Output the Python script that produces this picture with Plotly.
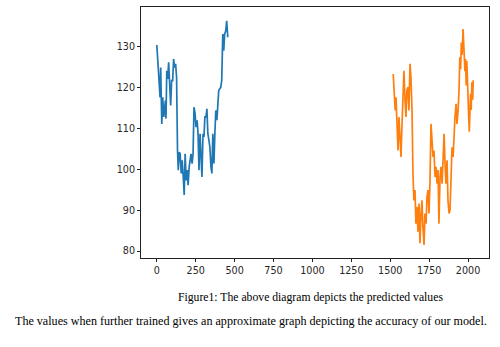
import plotly.graph_objects as go

# Predictions on the training window (day index, price)
train_day = [0, 11, 17, 21, 25, 32, 38, 42, 45, 55, 59, 64, 70, 76, 83, 89, 95, 102,
             108, 114, 121, 127, 133, 138, 144, 150, 157, 163, 170, 176, 182, 189,
             195, 201, 208, 214, 220, 227, 233, 239, 246, 252, 259, 265, 271, 278,
             284, 290, 297, 303, 309, 316, 322, 328, 335, 341, 348, 354, 360, 367,
             373, 379, 386, 392, 398, 405, 411, 417, 424, 430, 436, 443, 449, 456]
train_pred = [130.4, 123.3, 122.1, 117.6, 124.9, 111.1, 117.6, 114.4, 112.8, 116.8,
              112.4, 124.1, 122.1, 126.2, 121.7, 115.6, 121.7, 121.7, 127.0, 124.9,
              125.8, 122.5, 104.6, 99.8, 104.2, 103.8, 99.0, 102.2, 98.1, 93.7,
              103.8, 97.3, 99.8, 96.1, 100.6, 103.0, 103.8, 101.4, 103.8, 115.2,
              113.6, 110.3, 112.0, 108.7, 99.8, 108.7, 104.6, 98.1, 108.7, 107.9,
              112.8, 112.8, 114.8, 108.7, 107.1, 105.4, 100.6, 99.0, 108.7, 101.4,
              108.7, 114.4, 112.0, 116.8, 119.3, 119.7, 120.1, 121.7, 133.1, 129.0,
              133.1, 133.9, 136.3, 132.3]

# Predictions on the test window
test_day = [1519, 1526, 1532, 1537, 1543, 1550, 1556, 1562, 1569, 1575, 1582, 1588,
            1595, 1601, 1607, 1614, 1620, 1627, 1633, 1640, 1646, 1652, 1659, 1665,
            1672, 1678, 1685, 1691, 1698, 1704, 1710, 1717, 1723, 1730, 1736, 1743,
            1749, 1755, 1762, 1768, 1775, 1781, 1788, 1794, 1801, 1807, 1813, 1820,
            1826, 1833, 1839, 1846, 1852, 1858, 1865, 1871, 1878, 1884, 1891, 1897,
            1904, 1910, 1916, 1923, 1929, 1936, 1942, 1947, 1952, 1957, 1962, 1968,
            1972, 1976, 1980, 1984, 1988, 1992, 1996, 2000, 2004, 2008, 2012, 2016,
            2020, 2025, 2030, 2033]
test_pred = [123.3, 118.5, 114.4, 117.6, 112.0, 104.6, 112.8, 109.5, 103.0, 110.3,
             119.3, 124.1, 116.8, 112.8, 119.3, 120.1, 114.4, 125.8, 122.5, 114.4,
             98.9, 92.4, 94.9, 86.7, 90.8, 84.7, 91.6, 81.9, 89.2, 92.4, 85.9, 81.5,
             89.2, 86.7, 93.2, 94.9, 89.2, 96.5, 111.1, 105.4, 103.0, 104.6, 98.1,
             100.6, 96.5, 99.8, 86.7, 98.1, 100.6, 96.5, 104.6, 108.7, 101.4, 96.5,
             102.2, 92.4, 89.2, 90.0, 98.1, 105.4, 103.0, 108.7, 112.8, 116.0, 111.1,
             114.4, 119.3, 127.4, 124.5, 131.0, 128.0, 134.3, 130.5, 127.8, 124.0,
             127.0, 120.5, 126.5, 119.5, 117.0, 113.0, 109.2, 114.0, 118.5, 114.5,
             121.3, 117.0, 121.8]

x_ticks = [0, 250, 500, 750, 1000, 1250, 1500, 1750, 2000]
y_ticks = [80, 90, 100, 110, 120, 130]

caption = "Figure1: The above diagram depicts the predicted values"
body_text = ("The values when further trained gives an approximate graph "
             "depicting the accuracy of our model.")

fig = go.Figure()
fig.add_trace(go.Scatter(x=train_day, y=train_pred, mode="lines",
                         line=dict(color="#1f77b4", width=1.7)))
fig.add_trace(go.Scatter(x=test_day, y=test_pred, mode="lines",
                         line=dict(color="#ff7f0e", width=1.7)))

axis_common = dict(showgrid=False, zeroline=False, showline=True, mirror=True,
                   linecolor="#222", linewidth=1, ticks="outside", ticklen=3,
                   tickcolor="#222", tickfont=dict(family="DejaVu Sans", size=9.6,
                                                   color="#262626"))
fig.update_xaxes(range=[-101.6, 2134.6], tickvals=x_ticks,
                 ticktext=[str(v) for v in x_ticks], **axis_common)
fig.update_yaxes(range=[78.3, 139.7], tickvals=y_ticks,
                 ticktext=[str(v) for v in y_ticks], **axis_common)

fig.add_annotation(text=caption, xref="paper", yref="paper", x=0.486, y=-0.157,
                   xanchor="center", yanchor="middle", showarrow=False,
                   font=dict(family="Liberation Serif", size=11.7, color="#000"))
fig.add_annotation(text=body_text, xref="paper", yref="paper", x=-0.368, y=-0.251,
                   xanchor="left", yanchor="middle", showarrow=False,
                   font=dict(family="Liberation Serif", size=12.1, color="#000"))

fig.update_layout(width=500, height=347, showlegend=False,
                  margin=dict(l=141, r=11, t=7, b=89),
                  paper_bgcolor="white", plot_bgcolor="white")

fig.write_html("out.html")
